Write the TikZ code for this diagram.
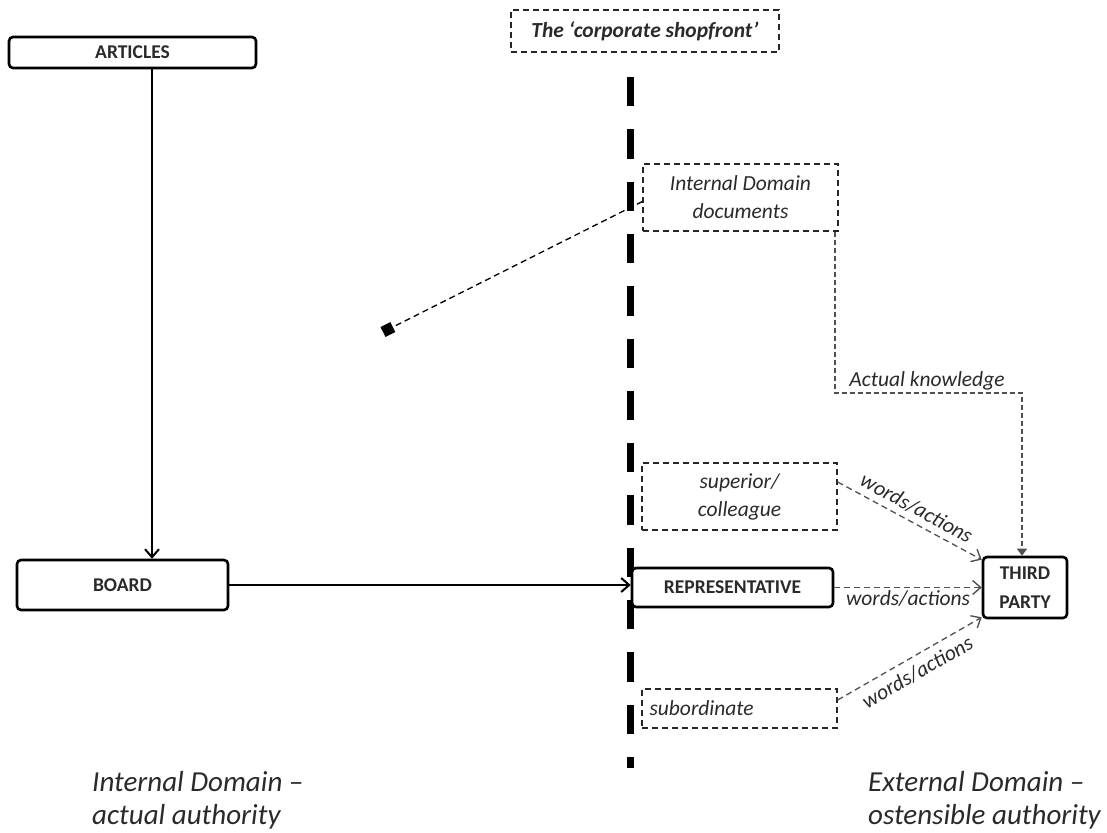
\documentclass[tikz,border=0pt]{standalone}
\usepackage{fontspec}
\setmainfont{Carlito}
\usetikzlibrary{arrows.meta}
\definecolor{txt}{HTML}{2A2A2A}
\definecolor{conn}{HTML}{505050}
\tikzset{
  solidbox/.style={draw=black, line width=2.6pt, rounded corners=4pt, fill=white, inner sep=0pt,
    font=\fontsize{19.5}{29}\selectfont\bfseries, text=txt, align=center},
  dashbox/.style={draw=black!85, line width=1.3pt, dash pattern=on 6pt off 4pt, inner sep=0pt,
    font=\fontsize{21.5}{28}\selectfont\itshape, text=txt, align=center},
  solidarrow/.style={line width=2pt, -{Straight Barb[length=8pt,width=14pt,line width=2pt]}},
  dasharrow/.style={draw=conn, line width=1.3pt, dash pattern=on 6pt off 4pt,
    -{Straight Barb[length=8pt,width=14pt,line width=1.4pt]}},
  knowarrow/.style={draw=conn, line width=1.3pt, dash pattern=on 5pt off 3pt,
    -{Triangle[length=7pt,width=10pt]}},
  mkline/.style={draw=black, line width=1.3pt, dash pattern=on 6pt off 4pt,
    -{Square[length=11pt,width=11pt]}},
  lbl/.style={font=\fontsize{21.5}{28}\selectfont\itshape, text=txt, inner sep=1pt},
  domlbl/.style={font=\fontsize{29}{33}\selectfont\itshape, text=txt, align=left, inner sep=0pt},
}
\begin{document}
\begin{tikzpicture}[x=1pt, y=-1pt]
\useasboundingbox (0,0) rectangle (1107,832);
% shopfront divider
\draw[line width=7pt, dash pattern=on 29.3pt off 23pt] (630,77) -- (630,768);
% nodes
\node[solidbox, minimum width=247pt, minimum height=31pt] (art) at (132.5,52.5) {ARTICLES};
\node[solidbox, minimum width=211pt, minimum height=50pt] (board) at (122.5,585) {BOARD};
\node[solidbox, minimum width=201pt, minimum height=39pt] (rep) at (732.5,587.5) {REPRESENTATIVE};
\node[solidbox, minimum width=84pt, minimum height=61pt] (third) at (1025,587.5) {THIRD\\PARTY};
\node[dashbox, font=\fontsize{21.5}{28}\selectfont\bfseries\itshape, minimum width=268pt, minimum height=42pt] (shop) at (645,31) {The `corporate shopfront'};
\node[dashbox, fill=white, minimum width=195pt, minimum height=67pt] (docs) at (740.5,197.5) {Internal Domain\\documents};
\node[dashbox, minimum width=195pt, minimum height=67pt] (sup) at (739.5,496.5) {superior/\\colleague};
\node[dashbox, minimum width=195pt, minimum height=39pt, text width=180pt, align=left] (sub) at (739.5,708.5) {subordinate};
\coordinate (mk) at (383,332);
% connectors
\draw[solidarrow] (art.south -| 152,0) -- (board.north -| 152,0);
\draw[solidarrow] (board.east) -- (board.east -| rep.west);
\draw[mkline] ([yshift=-4pt]docs.west) -- (mk);
\draw[knowarrow] (docs.south -| 835,0) |- (1022,393) -- (third.north -| 1022,0);
\node[lbl, anchor=base] (ak) at (927,386) {Actual knowledge};
\draw[dasharrow] ([yshift=14.5pt]sup.east) -- node[lbl, sloped, above=5pt] (w1) {words/actions} ([yshift=-4pt]third.north west);
\draw[dasharrow] (rep.east) -- node[lbl, below=1pt] (w2) {words/actions} (rep.east -| third.west);
\draw[dasharrow] ([yshift=8.5pt]sub.east) -- node[lbl, sloped, below=6pt] (w3) {words/actions} ([yshift=2pt]third.south west);
% domain labels
\node[domlbl, anchor=north west] (intd) at (92,771) {Internal Domain --\\actual authority};
\node[domlbl, anchor=north west] (extd) at (868,771) {External Domain --\\ostensible authority};
\end{tikzpicture}
\end{document}
